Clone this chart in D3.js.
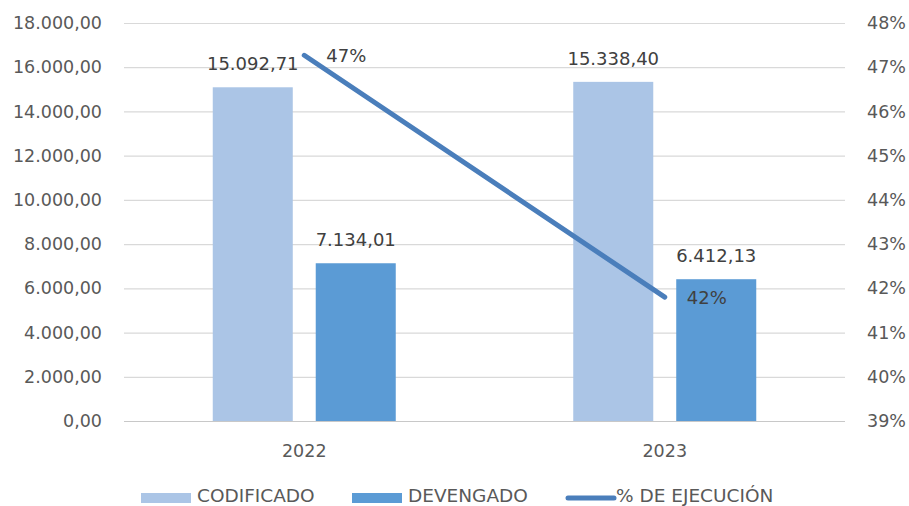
<!DOCTYPE html>
<html>
<head>
<meta charset="utf-8">
<script src="https://cdn.jsdelivr.net/npm/d3@7"></script>
<style>
  body { margin: 0; background: #fff; }
  text { font-family: "DejaVu Sans", sans-serif; }
</style>
</head>
<body>
<div id="chart"></div>
<script>
// data
var years = ["2022", "2023"];
var codificado = [15092.71, 15338.40];
var devengado = [7134.01, 6412.13];
var ejecucion = [0.4727, 0.4180];
var seriesNames = ["CODIFICADO", "DEVENGADO"];
var leftTicks = [0, 2000, 4000, 6000, 8000, 10000, 12000, 14000, 16000, 18000];
var rightTicks = [0.39, 0.40, 0.41, 0.42, 0.43, 0.44, 0.45, 0.46, 0.47, 0.48];

var colors = { CODIFICADO: "#abc5e6", DEVENGADO: "#5b9bd5", line: "#4a7ebb" };

var W = 909, H = 506;
var margin = { top: 23, right: 64, bottom: 85, left: 124 },
  width = W - margin.left - margin.right,
  height = H - margin.top - margin.bottom;

var svg = d3.select("#chart")
  .append("svg")
  .attr("width", W)
  .attr("height", H)
  .append("g")
  .attr("transform", "translate(" + margin.left + "," + margin.top + ")");

var es = d3.formatLocale({ decimal: ",", thousands: ".", grouping: [3], currency: ["", ""] });
var fmtNum = es.format(",.2f");
var fmtPct = function (d) { return Math.round(d * 100) + "%"; };

var x = d3.scaleBand().domain(years).range([0, width]);
var groupW = 183;
var x1 = d3.scaleBand().domain(seriesNames)
  .range([(x.bandwidth() - groupW) / 2, (x.bandwidth() + groupW) / 2])
  .paddingInner(0.223);

var yL = d3.scaleLinear().domain([0, 18000]).range([height, 0]);
var yR = d3.scaleLinear().domain([0.39, 0.48]).range([height, 0]);

// gridlines
svg.append("g")
  .selectAll("line")
  .data(leftTicks)
  .enter()
  .append("line")
  .attr("x1", 0).attr("x2", width)
  .attr("y1", function (d) { return yL(d) + 0.5; })
  .attr("y2", function (d) { return yL(d) + 0.5; })
  .attr("stroke", function (d) { return d === 0 ? "#c8c8c8" : "#d9d9d9"; })
  .attr("stroke-width", 1.2);

// axes
var leftAxis = svg.append("g")
  .call(d3.axisLeft(yL).tickValues(leftTicks).tickFormat(fmtNum).tickSize(0).tickPadding(22));
var rightAxis = svg.append("g")
  .attr("transform", "translate(" + width + ",0)")
  .call(d3.axisRight(yR).tickValues(rightTicks).tickFormat(fmtPct).tickSize(0).tickPadding(22));
var bottomAxis = svg.append("g")
  .attr("transform", "translate(0," + height + ")")
  .call(d3.axisBottom(x).tickSize(0).tickPadding(24));

[leftAxis, rightAxis, bottomAxis].forEach(function (a) {
  a.select(".domain").remove();
  a.selectAll("text")
    .style("font-family", "DejaVu Sans, sans-serif")
    .style("font-size", "17.5px")
    .attr("fill", "#595959");
});

// bars
var rows = years.map(function (y, i) {
  return { year: y, CODIFICADO: codificado[i], DEVENGADO: devengado[i] };
});

var groups = svg.append("g")
  .selectAll("g")
  .data(rows)
  .enter()
  .append("g")
  .attr("transform", function (d) { return "translate(" + x(d.year) + ",0)"; });

var bars = groups.selectAll("g")
  .data(function (d) { return seriesNames.map(function (k) { return { key: k, value: d[k] }; }); })
  .enter()
  .append("g");

bars.append("rect")
  .attr("x", function (d) { return x1(d.key); })
  .attr("width", x1.bandwidth())
  .attr("y", function (d) { return yL(d.value); })
  .attr("height", function (d) { return height - yL(d.value); })
  .attr("fill", function (d) { return colors[d.key]; });

bars.append("text")
  .attr("x", function (d) { return x1(d.key) + x1.bandwidth() / 2; })
  .attr("y", function (d) { return yL(d.value) - 17; })
  .attr("text-anchor", "middle")
  .style("font-size", "18px")
  .attr("fill", "#404040")
  .text(function (d) { return fmtNum(d.value); });

// line
var linePts = years.map(function (y, i) { return { year: y, value: ejecucion[i] }; });
var cx = function (d) { return x(d.year) + x.bandwidth() / 2; };

svg.append("path")
  .datum(linePts)
  .attr("d", d3.line().x(cx).y(function (d) { return yR(d.value); }))
  .attr("fill", "none")
  .attr("stroke", colors.line)
  .attr("stroke-width", 5)
  .attr("stroke-linecap", "round");

svg.append("g")
  .selectAll("text")
  .data(linePts)
  .enter()
  .append("text")
  .attr("x", function (d) { return cx(d) + 22; })
  .attr("y", function (d) { return yR(d.value) + 7; })
  .style("font-size", "18px")
  .attr("fill", "#404040")
  .text(function (d) { return fmtPct(d.value); });

// legend
var legend = d3.select("svg").append("g");
var legendItems = [
  { name: "CODIFICADO", x: 141, type: "rect", color: colors.CODIFICADO },
  { name: "DEVENGADO", x: 352, type: "rect", color: colors.DEVENGADO },
  { name: "% DE EJECUCIÓN", x: 566, type: "line", color: colors.line }
];
var li = legend.selectAll("g")
  .data(legendItems)
  .enter()
  .append("g")
  .attr("transform", function (d) { return "translate(" + d.x + ",497)"; });

li.filter(function (d) { return d.type === "rect"; })
  .append("rect")
  .attr("x", 0).attr("y", -4)
  .attr("width", 50).attr("height", 10)
  .attr("fill", function (d) { return d.color; });

li.filter(function (d) { return d.type === "line"; })
  .append("line")
  .attr("x1", 2).attr("x2", 48)
  .attr("y1", 1).attr("y2", 1)
  .attr("stroke", function (d) { return d.color; })
  .attr("stroke-width", 5)
  .attr("stroke-linecap", "round");

li.append("text")
  .attr("x", function (d) { return d.type === "line" ? 50 : 56; })
  .attr("y", 5)
  .style("font-size", "18.5px")
  .attr("fill", "#595959")
  .text(function (d) { return d.name; });
</script>
</body>
</html>
